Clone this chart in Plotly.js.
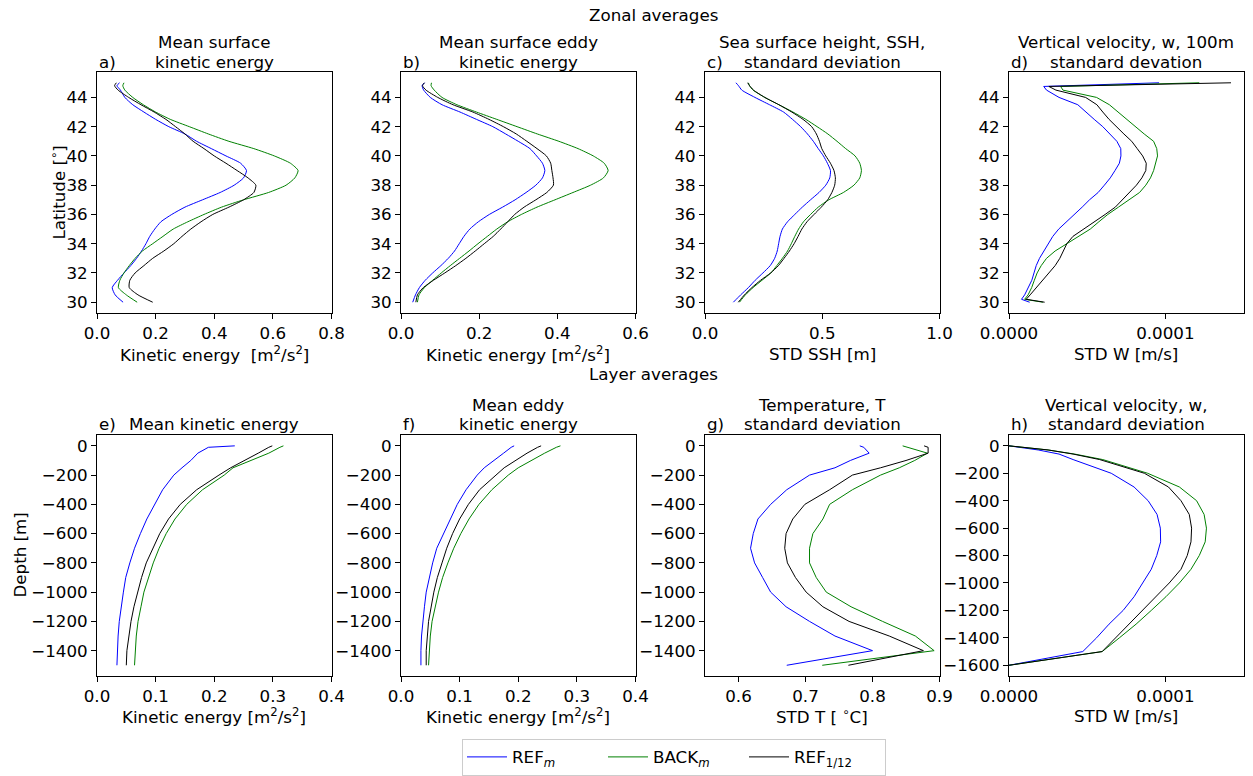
<!DOCTYPE html>
<html><head><meta charset="utf-8">
<script src="https://cdn.plot.ly/plotly-3.0.1.min.js"></script>
<style>html,body{margin:0;padding:0;background:#fff}#chart{width:1253px;height:776px}</style>
</head><body><div id="chart"></div>
<script>
// ---------- DATA ----------
const seriesNames = ['REF<sub><i>m</i></sub>', 'BACK<sub><i>m</i></sub>', 'REF<sub>1/12</sub>'];
const seriesColors = ['#0000ff', '#008000', '#000000'];

// Zonal averages: latitude
const latZ = [30, 30.5, 31, 31.5, 32, 32.5, 33, 33.5, 34, 34.5, 35, 35.5, 36, 36.5, 37, 37.5, 38, 38.5, 39, 39.5, 40, 40.5, 41, 41.5, 42, 42.5, 43, 43.5, 44, 44.5, 44.8, 45];
// a) Mean surface kinetic energy
const mkeRef  = [0.089,0.062,0.052,0.07,0.092,0.115,0.135,0.152,0.167,0.18,0.197,0.218,0.255,0.30,0.36,0.42,0.468,0.50,0.51,0.49,0.44,0.39,0.34,0.30,0.245,0.20,0.16,0.122,0.095,0.08,0.068,0.077];
const mkeBack = [0.137,0.10,0.073,0.078,0.092,0.11,0.13,0.155,0.19,0.225,0.26,0.31,0.365,0.425,0.50,0.585,0.645,0.675,0.686,0.66,0.605,0.535,0.45,0.38,0.315,0.25,0.20,0.158,0.122,0.095,0.088,0.092];
const mkeHr   = [0.19,0.14,0.11,0.112,0.13,0.16,0.19,0.228,0.262,0.29,0.32,0.355,0.395,0.45,0.50,0.535,0.542,0.515,0.478,0.44,0.40,0.365,0.328,0.30,0.268,0.235,0.195,0.15,0.108,0.072,0.06,0.066];
// b) Mean surface eddy kinetic energy
const ekeRef  = [0.03,0.037,0.047,0.062,0.081,0.102,0.121,0.137,0.149,0.161,0.176,0.198,0.226,0.26,0.292,0.32,0.345,0.362,0.368,0.362,0.347,0.33,0.30,0.268,0.235,0.193,0.151,0.105,0.075,0.058,0.054,0.06];
const ekeBack = [0.042,0.046,0.06,0.081,0.103,0.126,0.15,0.174,0.197,0.221,0.245,0.273,0.308,0.348,0.394,0.44,0.485,0.518,0.53,0.52,0.492,0.453,0.404,0.349,0.297,0.245,0.193,0.143,0.105,0.085,0.077,0.078];
const ekeHr   = [0.038,0.042,0.057,0.083,0.112,0.14,0.166,0.19,0.213,0.236,0.255,0.273,0.291,0.315,0.345,0.373,0.39,0.389,0.386,0.383,0.372,0.348,0.322,0.295,0.262,0.225,0.184,0.133,0.094,0.064,0.055,0.06];
// c) SSH standard deviation
const sshRef  = [0.121,0.152,0.185,0.214,0.247,0.278,0.297,0.308,0.314,0.32,0.33,0.352,0.383,0.415,0.45,0.486,0.515,0.532,0.535,0.522,0.505,0.483,0.462,0.437,0.408,0.373,0.335,0.275,0.213,0.157,0.143,0.132];
const sshBack = [0.147,0.172,0.205,0.243,0.281,0.306,0.33,0.352,0.368,0.383,0.399,0.42,0.45,0.483,0.528,0.59,0.635,0.66,0.667,0.66,0.64,0.60,0.563,0.524,0.478,0.43,0.375,0.315,0.255,0.205,0.19,0.185];
const sshHr   = [0.142,0.168,0.20,0.237,0.28,0.313,0.337,0.36,0.38,0.397,0.413,0.435,0.465,0.496,0.523,0.541,0.553,0.556,0.55,0.535,0.515,0.498,0.488,0.475,0.455,0.418,0.37,0.315,0.255,0.207,0.19,0.182];
// d) Vertical velocity at 100 m, standard deviation
const latD = [30, 30.2, 30.5, 31, 31.5, 32, 32.5, 33, 33.5, 34, 34.5, 35, 35.5, 36, 36.5, 37, 37.5, 38, 38.5, 39, 39.5, 40, 40.5, 41, 41.5, 42, 42.5, 43, 43.5, 44, 44.5, 44.75, 45];
const wzRef  = [1.32e-5,0.80e-5,1.00e-5,1.25e-5,1.46e-5,1.60e-5,1.74e-5,1.95e-5,2.22e-5,2.50e-5,2.80e-5,3.18e-5,3.70e-5,4.18e-5,4.68e-5,5.15e-5,5.70e-5,6.10e-5,6.48e-5,6.78e-5,7.06e-5,7.16e-5,7.15e-5,6.90e-5,6.45e-5,6.00e-5,5.45e-5,4.90e-5,4.40e-5,3.20e-5,2.40e-5,2.22e-5,9.60e-5];
const wzBack = [2.17e-5,1.00e-5,1.22e-5,1.45e-5,1.62e-5,1.80e-5,2.06e-5,2.40e-5,2.95e-5,3.70e-5,4.47e-5,5.20e-5,5.75e-5,6.32e-5,7.00e-5,7.70e-5,8.35e-5,8.75e-5,9.05e-5,9.25e-5,9.40e-5,9.50e-5,9.45e-5,9.25e-5,8.65e-5,8.10e-5,7.49e-5,6.95e-5,6.42e-5,5.60e-5,3.45e-5,3.30e-5,12.17e-5];
const wzHr   = [2.28e-5,1.10e-5,1.35e-5,1.75e-5,2.13e-5,2.55e-5,2.95e-5,3.25e-5,3.45e-5,3.70e-5,4.09e-5,4.80e-5,5.50e-5,6.15e-5,6.80e-5,7.25e-5,7.70e-5,8.15e-5,8.50e-5,8.75e-5,8.78e-5,8.55e-5,8.20e-5,7.85e-5,7.35e-5,6.85e-5,6.40e-5,6.00e-5,5.62e-5,4.90e-5,3.00e-5,2.55e-5,14.20e-5];

// Layer averages: depth
const depthL = [0, -10, -50, -100, -150, -200, -300, -400, -500, -600, -700, -800, -900, -1000, -1100, -1200, -1300, -1400, -1500];
// e) Mean kinetic energy
const lkeRef  = [0.235,0.19,0.172,0.16,0.145,0.131,0.112,0.098,0.085,0.074,0.064,0.056,0.049,0.045,0.041,0.038,0.036,0.035,0.034];
const lkeBack = [0.318,0.312,0.293,0.262,0.232,0.217,0.18,0.153,0.133,0.118,0.106,0.096,0.088,0.08,0.075,0.07,0.067,0.065,0.064];
const lkeHr   = [0.299,0.293,0.275,0.251,0.228,0.208,0.17,0.142,0.122,0.107,0.095,0.084,0.076,0.069,0.063,0.058,0.054,0.051,0.05];
// f) Mean eddy kinetic energy
const lekeRef  = [0.193,0.188,0.175,0.158,0.142,0.13,0.111,0.096,0.084,0.073,0.061,0.054,0.048,0.043,0.04,0.037,0.035,0.034,0.034];
const lekeBack = [0.272,0.265,0.245,0.223,0.20,0.183,0.155,0.133,0.116,0.102,0.09,0.08,0.071,0.064,0.058,0.053,0.05,0.048,0.047];
const lekeHr   = [0.239,0.233,0.215,0.195,0.176,0.162,0.134,0.115,0.10,0.088,0.078,0.07,0.062,0.056,0.051,0.047,0.045,0.043,0.043];
// g) Temperature standard deviation
const tRef  = [0.781,0.787,0.795,0.767,0.744,0.706,0.672,0.648,0.629,0.622,0.618,0.624,0.636,0.648,0.671,0.706,0.744,0.80,0.672];
const tBack = [0.845,0.852,0.882,0.863,0.84,0.812,0.77,0.736,0.726,0.711,0.706,0.706,0.716,0.731,0.768,0.815,0.864,0.892,0.725];
const tHr   = [0.877,0.883,0.883,0.85,0.812,0.77,0.736,0.699,0.681,0.671,0.669,0.673,0.685,0.701,0.726,0.765,0.825,0.876,0.764];
// h) Vertical velocity standard deviation
const depthH = [0, -30, -60, -100, -200, -300, -400, -500, -600, -700, -800, -900, -1000, -1100, -1200, -1300, -1400, -1500, -1600];
const wlRef  = [0,1.87e-5,3.2e-5,4.1e-5,6.54e-5,8.0e-5,8.9e-5,9.47e-5,9.68e-5,9.7e-5,9.45e-5,9.1e-5,8.55e-5,8.0e-5,7.3e-5,6.4e-5,5.6e-5,4.72e-5,0];
const wlBack = [0,2.5e-5,4.2e-5,6.0e-5,8.87e-5,10.9e-5,12.0e-5,12.48e-5,12.63e-5,12.55e-5,12.17e-5,11.64e-5,10.9e-5,10.04e-5,9.1e-5,8.13e-5,7.06e-5,5.96e-5,0];
const wlHr   = [0,2.5e-5,4.1e-5,5.8e-5,8.66e-5,10.2e-5,11.0e-5,11.53e-5,11.68e-5,11.64e-5,11.4e-5,11.0e-5,10.25e-5,9.4e-5,8.55e-5,7.7e-5,6.85e-5,5.96e-5,0];

// ---------- LAYOUT HELPERS ----------
const W = 1253, H = 776;
const FONT = 'DejaVu Sans, Verdana, sans-serif';
const FS = 16.7;
const px = v => v / W;
const py = v => 1 - v / H;
const cols = [[97, 331.5], [401, 635.5], [705, 939.5], [1009, 1243.5]];
const rows = [[72, 314], [436, 678]];

const panels = [
  {lat: latZ, ys: [mkeRef, mkeBack, mkeHr], shape: 'spline', xr: [0, 0.8], xt: [0,0.2,0.4,0.6,0.8], xf: '.1f', yr: [29.25, 45.75], yt: [30,32,34,36,38,40,42,44]},
  {lat: latZ, ys: [ekeRef, ekeBack, ekeHr], shape: 'spline', xr: [0, 0.6], xt: [0,0.2,0.4,0.6], xf: '.1f', yr: [29.25, 45.75], yt: [30,32,34,36,38,40,42,44]},
  {lat: latZ, ys: [sshRef, sshBack, sshHr], shape: 'spline', xr: [0, 1.0], xt: [0,0.5,1.0], xf: '.1f', yr: [29.25, 45.75], yt: [30,32,34,36,38,40,42,44]},
  {lat: latD, ys: [wzRef, wzBack, wzHr], shape: 'linear', xr: [0, 0.00015], xt: [0,0.0001], xf: '.4f', yr: [29.25, 45.75], yt: [30,32,34,36,38,40,42,44]},
  {lat: depthL, ys: [lkeRef, lkeBack, lkeHr], shape: 'linear', xr: [0, 0.4], xt: [0,0.1,0.2,0.3,0.4], xf: '.1f', yr: [-1575, 75], yt: [0,-200,-400,-600,-800,-1000,-1200,-1400]},
  {lat: depthL, ys: [lekeRef, lekeBack, lekeHr], shape: 'linear', xr: [0, 0.4], xt: [0,0.1,0.2,0.3,0.4], xf: '.1f', yr: [-1575, 75], yt: [0,-200,-400,-600,-800,-1000,-1200,-1400]},
  {lat: depthL, ys: [tRef, tBack, tHr], shape: 'linear', xr: [0.55, 0.9], xt: [0.6,0.7,0.8,0.9], xf: '.1f', yr: [-1575, 75], yt: [0,-200,-400,-600,-800,-1000,-1200,-1400]},
  {lat: depthH, ys: [wlRef, wlBack, wlHr], shape: 'linear', xr: [0, 0.00015], xt: [0,0.0001], xf: '.4f', yr: [-1680, 80], yt: [0,-200,-400,-600,-800,-1000,-1200,-1400,-1600]}
];

const traces = [];
const layout = {
  width: W, height: H,
  margin: {l: 0, r: 0, t: 0, b: 0},
  paper_bgcolor: '#fff', plot_bgcolor: '#fff',
  font: {family: FONT, size: FS, color: '#000'},
  showlegend: true,
  legend: {orientation: 'h', x: px(674), xanchor: 'center', y: py(759), yanchor: 'middle',
           bordercolor: '#cccccc', borderwidth: 1, bgcolor: '#fff',
           font: {family: FONT, size: FS, color: '#000'}, entrywidth: 86, itemwidth: 40},
  annotations: []
};

panels.forEach((p, i) => {
  const r = Math.floor(i / 4), c = i % 4;
  const sfx = i === 0 ? '' : String(i + 1);
  const xa = 'x' + sfx, ya = 'y' + sfx;
  p.ys.forEach((vals, k) => {
    traces.push({
      x: vals, y: p.lat, xaxis: xa, yaxis: ya, type: 'scatter', mode: 'lines',
      name: seriesNames[k], legendgroup: 's' + k, showlegend: i === 0,
      line: {color: seriesColors[k], width: 1, shape: p.shape, smoothing: 0.6},
      hoverinfo: 'skip'
    });
  });
  const common = {showline: true, mirror: true, linecolor: '#000', linewidth: 1,
    ticks: 'outside', ticklen: 5, tickwidth: 1, tickcolor: '#000',
    showgrid: false, zeroline: false, fixedrange: true,
    tickfont: {family: FONT, size: FS, color: '#000'}};
  layout['xaxis' + sfx] = Object.assign({}, common, {
    domain: [px(cols[c][0]), px(cols[c][1])], range: p.xr, anchor: ya,
    tickmode: 'array', tickvals: p.xt, tickformat: p.xf});
  layout['yaxis' + sfx] = Object.assign({}, common, {
    domain: [py(rows[r][1]), py(rows[r][0])], range: p.yr, anchor: xa,
    tickmode: 'array', tickvals: p.yt});
});

function txt(text, x, y, xanchor, angle) {
  layout.annotations.push({text: text, x: px(x), y: py(y), xref: 'paper', yref: 'paper',
    xanchor: xanchor || 'center', yanchor: 'middle', showarrow: false, textangle: angle || 0,
    font: {family: FONT, size: FS, color: '#000'}});
}
const cx = c => (cols[c][0] + cols[c][1]) / 2;

txt('Zonal averages', 653, 15);
txt('Layer averages', 653, 375);

// top row titles
const topT = [['Mean surface', 'kinetic energy', 'a)'], ['Mean surface eddy', 'kinetic energy', 'b)'],
              ['Sea surface height, SSH,', 'standard deviation', 'c)'], ['Vertical velocity, w, 100m', 'standard devation', 'd)']];
topT.forEach((t, c) => { txt(t[0], cx(c), 42); txt(t[1], cx(c), 62); txt(t[2], cols[c][0], 62, 'left'); });
const botT = [['', 'Mean kinetic energy', 'e)'], ['Mean eddy', 'kinetic energy', 'f)'],
              ['Temperature, T', 'standard deviation', 'g)'], ['Vertical velocity, w,', 'standard deviation', 'h)']];
botT.forEach((t, c) => { if (t[0]) txt(t[0], cx(c), 406); txt(t[1], cx(c), 425); txt(t[2], cols[c][0], 425, 'left'); });

// axis titles
const xT1 = ['Kinetic energy  [m<sup>2</sup>/s<sup>2</sup>]', 'Kinetic energy [m<sup>2</sup>/s<sup>2</sup>]', 'STD SSH [m]', 'STD W [m/s]'];
const xT2 = ['Kinetic energy [m<sup>2</sup>/s<sup>2</sup>]', 'Kinetic energy [m<sup>2</sup>/s<sup>2</sup>]', 'STD T [ <sup>∘</sup>C]', 'STD W [m/s]'];
xT1.forEach((t, c) => txt(t, cx(c), 355));
xT2.forEach((t, c) => txt(t, cx(c), 718));
txt('Latitude [<sup>∘</sup>]', 58, 193, 'center', -90);
txt('Depth [m]', 20, 557, 'center', -90);

Plotly.newPlot('chart', traces, layout, {displayModeBar: false, staticPlot: true});
</script>
</body></html>
